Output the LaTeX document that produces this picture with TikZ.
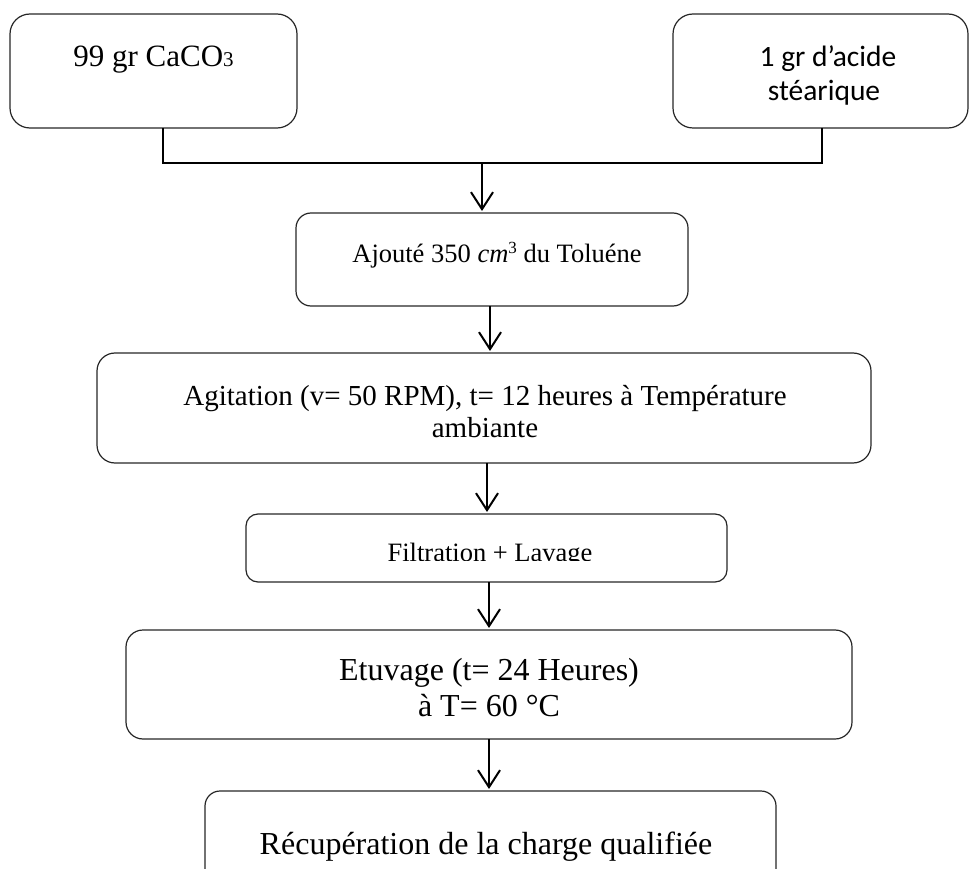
\documentclass[tikz,border=0pt]{standalone}
\usepackage{fontspec}
\setmainfont{Liberation Serif}
\newfontfamily\calibri{Carlito}
\usetikzlibrary{arrows.meta}

\begin{document}
\begin{tikzpicture}[x=1pt,y=-1pt,
  box/.style={draw=black!85, line width=1.2pt, rounded corners=#1,
    rectangle, inner sep=0pt, outer sep=0pt},
  box/.default=18pt,
  link/.style={draw=black, line width=2pt},
  flow/.style={link, -{Straight Barb[length=17pt,width=22pt,line width=2pt]},
    shorten >=2pt},
  txt/.style={anchor=base, inner sep=0pt, outer sep=0pt}
]
\useasboundingbox (0,0) rectangle (970,869);
\clip (0,0) rectangle (970,869);

% process boxes
\node[box=20pt, minimum width=287pt, minimum height=114pt] (b1) at (153.5,71) {};
\node[box=20pt, minimum width=295pt, minimum height=114pt] (b2) at (820.5,71) {};
\node[box=15pt, minimum width=392pt, minimum height=93pt] (b3) at (492,259.5) {};
\node[box=18pt, minimum width=774pt, minimum height=110pt] (b5) at (484,408) {};
\node[box=12pt, minimum width=481pt, minimum height=68pt] (b4) at (486.5,548) {};
\node[box=17pt, minimum width=726pt, minimum height=109pt] (b6) at (489,684.5) {};
\node[box=15pt, minimum width=571pt, minimum height=138pt] (b7) at (490.5,860) {};

% labels
\node[txt] (t1) at (153.5,67) {\fontsize{31}{37}\selectfont 99 gr CaCO{\fontsize{21}{21}\selectfont 3}};
\node[txt] (t2a) at (828,67) {\calibri\fontsize{29.5}{34}\selectfont 1 gr d’acide};
\node[txt] (t2b) at (824,101) {\calibri\fontsize{29.5}{34}\selectfont stéarique};
\node[txt] (t3) at (497,263) {\fontsize{26.5}{30}\selectfont Ajouté 350 {\itshape cm}\raisebox{9.5pt}{\fontsize{17}{17}\selectfont 3} du Toluéne};
\node[txt] (t5a) at (485,405) {\fontsize{29}{32}\selectfont Agitation (v= 50 RPM), t= 12 heures à Température};
\node[txt] (t5b) at (485,437) {\fontsize{29}{32}\selectfont ambiante};
\begin{scope}
  \clip (246,514) rectangle (727,560);
  \node[txt] (t4) at (490,561) {\fontsize{26.5}{30}\selectfont Filtration + Lavage};
\end{scope}
\node[txt] (t6a) at (489,680) {\fontsize{32}{36}\selectfont Etuvage (t= 24 Heures)};
\node[txt] (t6b) at (489,716) {\fontsize{32}{36}\selectfont à T= 60 °C};
\node[txt] (t7) at (486,854) {\fontsize{32}{36}\selectfont Récupération de la charge qualifiée};

% junction of the two inputs
\coordinate (jl) at (163,163);
\coordinate (jr) at (822,163);
\coordinate (jm) at (482,163);
\draw[link] (b1.south -| jl) -- (jl) -- (jr) -- (b2.south -| jr);
\draw[flow] (jm) -- (b3.north -| jm);

% downward flow
\draw[flow] ([xshift=-2pt]b3.south) -- ([xshift=-2pt]b3.south |- b5.north);
\draw[flow] ([xshift=3pt]b5.south) -- ([xshift=3pt]b5.south |- b4.north);
\draw[flow] ([xshift=2.5pt]b4.south) -- ([xshift=2.5pt]b4.south |- b6.north);
\draw[flow] (b6.south) -- (b6.south |- b7.north);
\end{tikzpicture}
\end{document}
